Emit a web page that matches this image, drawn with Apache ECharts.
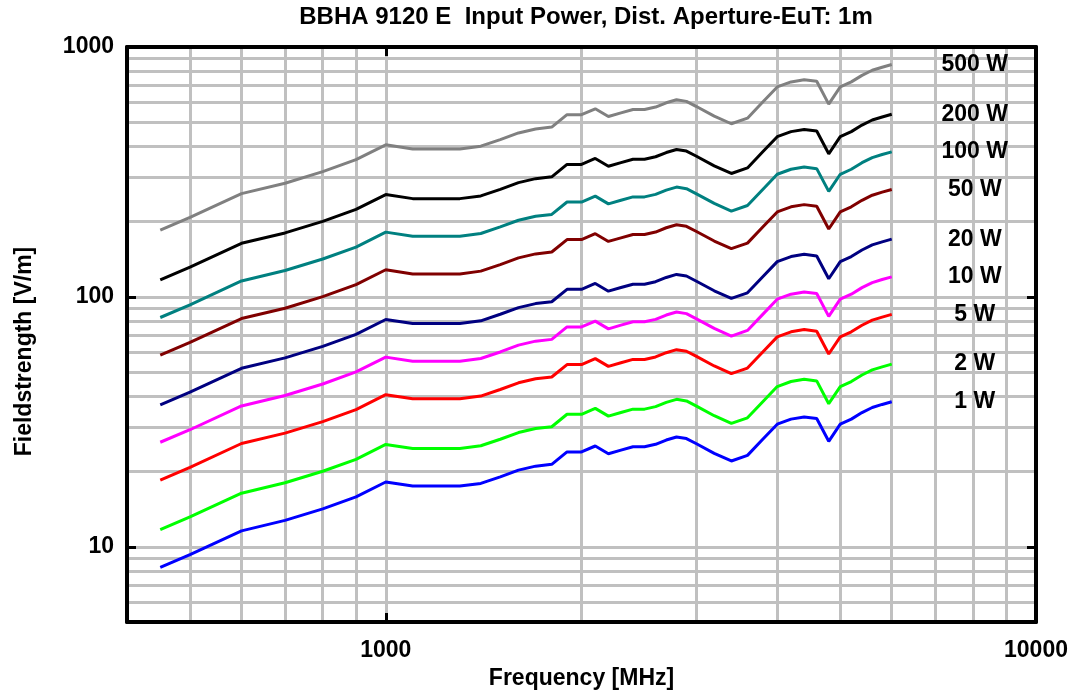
<!DOCTYPE html>
<html>
<head>
<meta charset="utf-8">
<title>BBHA 9120 E</title>
<script src="https://cdn.jsdelivr.net/npm/echarts@6/dist/echarts.min.js"></script>
<style>
  html, body { margin: 0; padding: 0; background: #fff; }
  #chart { width: 1079px; height: 696px; }
</style>
</head>
<body>
<div id="chart"></div>
<script>
// frequencies in MHz
const freqs = [450, 500, 600, 700, 800, 900, 1000, 1100, 1200, 1300, 1400, 1500, 1600, 1700, 1800, 1900, 2000,
  2100, 2200, 2300, 2400, 2500, 2600, 2700, 2800, 2900, 3000, 3200, 3400, 3600, 3800, 4000, 4200, 4400, 4600,
  4800, 5000, 5200, 5400, 5600, 5800, 6000]

// field strength in V/m, one array per input power
const w500 = [185, 208, 259, 285, 317, 354, 406, 391, 391, 391, 401, 426, 453, 470, 478, 536, 536, 566, 527, 545, 562, 562,
  575, 598, 615, 606, 579, 529, 493, 519, 602, 692, 725, 740, 729, 591, 692, 725, 770, 807, 830, 851]
const w200 = [117.0, 131.6, 163.8, 180.3, 200.5, 223.9, 256.8, 247.3, 247.3, 247.3, 253.6, 269.4, 286.5, 297.3, 302.3, 339.0,
  339.0, 358.0, 333.3, 344.7, 355.4, 355.4, 363.7, 378.2, 389.0, 383.3, 366.2, 334.6, 311.8, 328.2, 380.7, 437.7, 458.5,
  468.0, 461.1, 373.8, 437.7, 458.5, 487.0, 510.4, 524.9, 538.2]
const w100 = [82.7, 93.0, 115.8, 127.5, 141.8, 158.3, 181.6, 174.9, 174.9, 174.9, 179.3, 190.5, 202.6, 210.2, 213.8, 239.7,
  239.7, 253.1, 235.7, 243.7, 251.3, 251.3, 257.1, 267.4, 275.0, 271.0, 258.9, 236.6, 220.5, 232.1, 269.2, 309.5, 324.2,
  330.9, 326.0, 264.3, 309.5, 324.2, 344.4, 360.9, 371.2, 380.6]
const w50 = [58.5, 65.8, 81.9, 90.1, 100.2, 111.9, 128.4, 123.6, 123.6, 123.6, 126.8, 134.7, 143.3, 148.6, 151.2, 169.5,
  169.5, 179.0, 166.7, 172.3, 177.7, 177.7, 181.8, 189.1, 194.5, 191.6, 183.1, 167.3, 155.9, 164.1, 190.4, 218.8, 229.3,
  234.0, 230.5, 186.9, 218.8, 229.3, 243.5, 255.2, 262.5, 269.1]
const w20 = [37.0, 41.6, 51.8, 57.0, 63.4, 70.8, 81.2, 78.2, 78.2, 78.2, 80.2, 85.2, 90.6, 94.0, 95.6, 107.2, 107.2, 113.2,
  105.4, 109.0, 112.4, 112.4, 115.0, 119.6, 123.0, 121.2, 115.8, 105.8, 98.6, 103.8, 120.4, 138.4, 145.0, 148.0, 145.8,
  118.2, 138.4, 145.0, 154.0, 161.4, 166.0, 170.2]
const w10 = [26.2, 29.4, 36.6, 40.3, 44.8, 50.1, 57.4, 55.3, 55.3, 55.3, 56.7, 60.2, 64.1, 66.5, 67.6, 75.8, 75.8, 80.0,
  74.5, 77.1, 79.5, 79.5, 81.3, 84.6, 87.0, 85.7, 81.9, 74.8, 69.7, 73.4, 85.1, 97.9, 102.5, 104.7, 103.1, 83.6, 97.9,
  102.5, 108.9, 114.1, 117.4, 120.3]
const w5 = [18.5, 20.8, 25.9, 28.5, 31.7, 35.4, 40.6, 39.1, 39.1, 39.1, 40.1, 42.6, 45.3, 47.0, 47.8, 53.6, 53.6, 56.6, 52.7,
  54.5, 56.2, 56.2, 57.5, 59.8, 61.5, 60.6, 57.9, 52.9, 49.3, 51.9, 60.2, 69.2, 72.5, 74.0, 72.9, 59.1, 69.2, 72.5, 77.0,
  80.7, 83.0, 85.1]
const w2 = [11.70, 13.16, 16.38, 18.03, 20.05, 22.39, 25.68, 24.73, 24.73, 24.73, 25.36, 26.94, 28.65, 29.73, 30.23, 33.90,
  33.90, 35.80, 33.33, 34.47, 35.54, 35.54, 36.37, 37.82, 38.90, 38.33, 36.62, 33.46, 31.18, 32.82, 38.07, 43.77, 45.85,
  46.80, 46.11, 37.38, 43.77, 45.85, 48.70, 51.04, 52.49, 53.82]
const w1 = [8.27, 9.30, 11.58, 12.75, 14.18, 15.83, 18.16, 17.49, 17.49, 17.49, 17.93, 19.05, 20.26, 21.02, 21.38, 23.97,
  23.97, 25.31, 23.57, 24.37, 25.13, 25.13, 25.71, 26.74, 27.50, 27.10, 25.89, 23.66, 22.05, 23.21, 26.92, 30.95, 32.42,
  33.09, 32.60, 26.43, 30.95, 32.42, 34.44, 36.09, 37.12, 38.06]

const seriesNames = ['500 W', '200 W', '100 W', '50 W', '20 W', '10 W', '5 W', '2 W', '1 W']
const seriesValues = [w500, w200, w100, w50, w20, w10, w5, w2, w1]
const seriesColors = ['#808080', '#000000', '#008080', '#800000', '#000080', '#ff00ff', '#ff0000', '#00ff00', '#0000ff']

// grid lines of the log paper
const xGridLines = [500, 600, 700, 800, 900, 1000, 2000, 3000, 4000, 5000, 6000, 7000, 8000, 9000]
const yGridLines = [6, 7, 8, 9, 10, 20, 30, 40, 50, 60, 70, 80, 90, 100, 200, 300, 400, 500, 600, 700, 800, 900]

const font = 'Liberation Sans, Arial, sans-serif'
const labelStyle = { color: '#000', fontSize: 23, fontWeight: 'bold', fontFamily: font }

const myChart = echarts.init(document.getElementById('chart'), null, { renderer: 'canvas' })

const lineSeries = seriesNames.map((name, i) => ({
  name: name,
  type: 'line',
  z: 3,
  showSymbol: false,
  symbol: 'none',
  data: freqs.map((f, k) => [f, seriesValues[i][k]]),
  lineStyle: { color: seriesColors[i], width: 3 },
  itemStyle: { color: seriesColors[i] },
  endLabel: {
    show: true,
    formatter: '{a}',
    distance: 83,
    align: 'center',
    ...labelStyle
  }
}))

const gridSeries = {
  name: 'grid',
  type: 'line',
  z: 1,
  data: [],
  silent: true,
  markLine: {
    z: 1,
    silent: true,
    animation: false,
    symbol: ['none', 'none'],
    label: { show: false },
    lineStyle: { color: '#c0c0c0', width: 3, type: 'solid' },
    emphasis: { disabled: true },
    data: xGridLines.map(v => ({ xAxis: v })).concat(yGridLines.map(v => ({ yAxis: v })))
  }
}

const axisCommon = {
  type: 'log',
  logBase: 10,
  z: 5,
  axisLine: { show: true, onZero: false, lineStyle: { color: '#000', width: 4 } },
  axisTick: { show: true, inside: true, length: 9, lineStyle: { color: '#000', width: 3 } },
  splitLine: { show: false },
  minorSplitLine: { show: false }
}

const fmt = v => String(Math.round(v))

const option = {
  animation: false,
  backgroundColor: '#fff',
  title: {
    text: 'BBHA 9120 E  Input Power, Dist. Aperture-EuT: 1m',
    left: 586,
    top: 5,
    padding: 0,
    textAlign: 'center',
    textStyle: { color: '#000', fontSize: 24, fontWeight: 'bold', fontFamily: font }
  },
  grid: { left: 127, right: 43, top: 47, bottom: 74, containLabel: false },
  xAxis: [
    {
      ...axisCommon,
      position: 'bottom',
      min: 400,
      max: 10000,
      name: 'Frequency [MHz]',
      nameLocation: 'middle',
      nameGap: 43,
      nameTextStyle: labelStyle,
      axisLabel: { ...labelStyle, margin: 17, showMinLabel: false, formatter: fmt }
    },
    {
      ...axisCommon,
      position: 'top',
      min: 400,
      max: 10000,
      axisLabel: { show: false }
    }
  ],
  yAxis: [
    {
      ...axisCommon,
      position: 'left',
      min: 5,
      max: 1000,
      name: 'Fieldstrength [V/m]',
      nameLocation: 'middle',
      nameGap: 91,
      nameTextStyle: { ...labelStyle, padding: [0, 34, 0, 0] },
      axisLabel: { ...labelStyle, margin: 13, showMinLabel: false, formatter: fmt }
    },
    {
      ...axisCommon,
      position: 'right',
      min: 5,
      max: 1000,
      axisLabel: { show: false }
    }
  ],
  series: [gridSeries].concat(lineSeries)
}

myChart.setOption(option)
</script>
</body>
</html>
